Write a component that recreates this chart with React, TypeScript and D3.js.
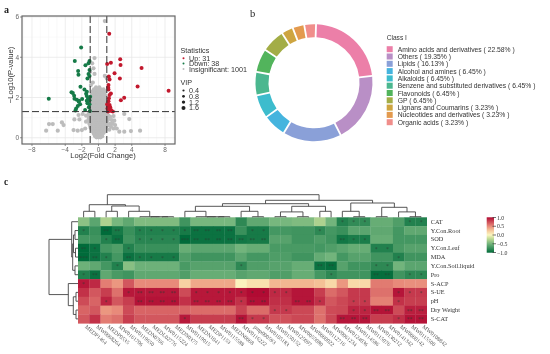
import React from "react";
import * as d3 from "d3";

// ---------- panel a data ----------
const xTicks = [-8, -4, -2, 0, 2, 4, 8];
const yTicks = [0, 2, 4, 6];
const upPoints = [[1.29,5.17],[1.49,3.73],[1.04,3.66],[2.61,3.9],[2.65,3.62],[5.18,3.47],[1.93,3.2],[1.24,3.05],[2.57,2.95],[1.33,2.9],[4.7,2.55],[8.43,2.34],[1.2,2.62],[1.16,2.5],[1.2,2.4],[1.49,2.2],[1.33,2.12],[3.09,1.99],[2.69,1.86],[1.25,1.96],[1.2,1.82],[1.33,1.63],[1.12,1.58],[1.41,1.51],[1.29,1.41],[1.08,1.46],[1.53,1.33],[1.73,1.31],[1.16,1.31],[1.04,1.67],[1.5,1.38]];
const downPoints = [[-2.09,4.48],[-2.85,3.81],[-1.08,3.81],[-1.2,3.7],[-1.57,3.6],[-2.45,3.32],[-2.41,3.13],[-1.08,3.37],[-1.2,3.17],[-1.08,3.07],[-1.33,2.94],[-5.98,1.94],[-2.17,2.54],[-1.69,2.4],[-1.4,2.29],[-3.25,2.26],[-3.09,2.22],[-2.93,2.09],[-2.89,1.94],[-2.61,1.89],[-2.33,1.84],[-1.97,1.92],[-1.41,2.07],[-1.25,1.96],[-1.41,1.84],[-1.08,1.87],[-1.33,1.71],[-1.08,1.67],[-2.21,1.67],[-2.49,1.58],[-2.69,1.46],[-2.77,1.36],[-1.61,1.38],[-1.04,1.33],[-1.16,1.51],[-2.37,1.79],[-1.0,2.04],[-1.49,2.19]];
const greyOutliers = [[0.76,5.8],[-0.48,3.96],[-0.76,3.7],[-0.6,3.45],[-1,3.28],[-0.48,3.17],[0.76,3.07],[1,2.95],[-0.68,2.74],[-0.92,2.62],[-6.3,0.35],[-5.95,0.68],[-5.5,0.68],[-4.9,0.35],[-4.4,0.76],[-4.2,0.63],[-2.9,0.91],[-2.4,1.13],[-1.9,1.18],[-2.3,0.91],[-3,0.38],[-2.5,0.35],[-2,0.38],[-1.6,0.46],[-1.5,0.8],[-1.5,1.1],[1.8,1.08],[3.1,1.18],[3.7,0.93],[2,0.63],[2.2,0.46],[2.5,0.3],[3.1,0.3],[3.9,0.33],[5,0.35],[1.8,0.46],[1.6,0.88],[1.4,1.04],[1.7,0.7],[1.5,0.55],[1.3,0.4],[1.9,0.85],[1.4,0.7]];
const greyBands: [number, number[]][] = [
  [2.5,[-0.3,0.1]],
  [2.4,[-0.55,-0.15,0.25,0.6]],
  [2.3,[-0.7,-0.4,-0.1,0.2,0.5,0.8]],
  [2.2,[-0.8,-0.5,-0.2,0.1,0.4,0.7]],
  [2.1,[-0.7,-0.4,-0.1,0.2,0.5,0.8]],
  [2.0,[-0.85,-0.55,-0.25,0.05,0.35,0.65]],
  [1.9,[-0.9,-0.6,-0.3,0,0.3,0.6,0.9]],
  [1.8,[-0.75,-0.45,-0.15,0.15,0.45,0.75]],
  [1.7,[-0.9,-0.6,-0.3,0,0.3,0.6,0.9]],
  [1.6,[-0.8,-0.5,-0.2,0.1,0.4,0.7,1.0]],
  [1.5,[-0.9,-0.6,-0.3,0,0.3,0.6,0.9]],
  [1.4,[-0.75,-0.45,-0.15,0.15,0.45,0.75]],
  [1.3,[-1.0,-0.7,-0.4,-0.1,0.2,0.5,0.8,1.1]],
  [1.2,[-1.15,-0.85,-0.55,-0.25,0.05,0.35,0.65,0.95]],
  [1.1,[-1.2,-0.9,-0.6,-0.3,0,0.3,0.6,0.9,1.2]],
  [1.0,[-1.15,-0.85,-0.55,-0.25,0.05,0.35,0.65,0.95]],
  [0.9,[-1.2,-0.9,-0.6,-0.3,0,0.3,0.6,0.9,1.15]],
  [0.8,[-1.1,-0.8,-0.5,-0.2,0.1,0.4,0.7,1.0]],
  [0.7,[-1.1,-0.85,-0.55,-0.25,0.05,0.35,0.65,0.95]],
  [0.6,[-1.0,-0.7,-0.4,-0.1,0.2,0.5,0.8,1.05]],
  [0.5,[-0.95,-0.65,-0.35,-0.05,0.25,0.55,0.85]],
  [0.4,[-0.8,-0.5,-0.2,0.1,0.4,0.7]],
  [0.32,[-0.7,-0.4,-0.1,0.2,0.5,0.75]],
  [0.24,[-0.6,-0.3,0,0.3,0.6]],
  [0.16,[-0.5,-0.2,0.1,0.4]],
  [0.08,[-0.4,-0.1,0.2,0.45]],
  [0.02,[-0.25,0,0.25]],
];
const vipLevels = ["0.4", "0.8", "1.2", "1.6"];
const vipRadius = [1.1, 1.4, 1.7, 2.0];

// ---------- panel b data ----------
const classNames = ["Amino acids and derivatives","Others","Lipids","Alcohol and amines","Alkaloids","Benzene and substituted derivatives","Flavonoids","GP","Lignans and Coumarins","Nucleotides and derivatives","Organic acids"];
const classPercents = [22.58,19.35,16.13,6.45,6.45,6.45,6.45,6.45,3.23,3.23,3.23];
const classColors = ["#ec7fa8","#b98fc6","#8aa0d8","#45b4de","#3dbccd","#4bb78f","#52b45c","#a3ad46","#cea540","#e39a4e","#f08e8b"];

// ---------- panel c data ----------
const rowLabels = ["CAT","Y.Con.Root","SOD","Y.Con.Leaf","MDA","Y.Con.Soil.liquid","Pro","S-ACP","S-UE","pH","Dry Weight","S-CAT"];
const colLabels = ["MEDP1464","MW0068264","MEDP0535","MW0161706","MW0119650","MEDN0766","MEDL02776","MW0115224","MEDN0375","MW0119015","MEDN1041","MEDP1153","MW0115588","MEDN0068","MW0116222","pmp000593","MW0105183","MW0150152","MW0125097","MW0055080","MW0060022","MW0112716","MW0061234","MW0124036","MW0114586","MW0115076","MW0130212","MW0141342","MW0060142","MW0115500","MW0108842"];
const valCAT = [-.4,-.6,-.28,-.48,-.58,-.45,-.45,-.45,-.45,-.72,-.48,-.48,-.48,-.48,-.8,-.58,-.58,-.48,-.48,-.45,-.45,-.28,-.5,-.85,-.78,-.78,-.55,-.55,-.65,-.85,-.85];
const valRoot = [-.85,-.75,-1,-.9,-.75,-.85,-.85,-.85,-.85,-.9,-.95,-.95,-.95,-.95,-.75,-.9,-.9,-.7,-.7,-.72,-.72,-.8,-.7,-.75,-.6,-.6,-.58,-.58,-.7,-.58,-.58];
const valSOD = [-.7,-.72,-.85,-.95,-.72,-.82,-.82,-.82,-.82,-1,-.95,-.95,-.95,-.95,-.92,-.9,-.9,-.62,-.62,-.72,-.72,-.66,-.72,-.92,-.88,-.88,-.55,-.55,-.7,-.7,-.7];
const valLeaf = [-1,-.95,-.7,-.65,-.85,-.75,-.75,-.75,-.75,-.55,-.6,-.6,-.6,-.6,-.5,-.55,-.55,-.68,-.68,-.68,-.68,-.7,-.65,-.6,-.55,-.55,-.85,-.85,-.68,-.62,-.62];
const valMDA = [-1,-.95,-.85,-.7,-.95,-.9,-.9,-.9,-.9,-.65,-.72,-.72,-.72,-.72,-.6,-.7,-.7,-.66,-.66,-.72,-.72,-.56,-.5,-.7,-.62,-.62,-.72,-.72,-.85,-.72,-.72];
const valSoil = [-.52,-.58,-.7,-.85,-.42,-.52,-.52,-.52,-.52,-.68,-.62,-.62,-.62,-.62,-.8,-.65,-.65,-.62,-.62,-.55,-.55,-.95,-.98,-.62,-.72,-.72,-.8,-.8,-.5,-.6,-.6];
const valPro = [-.85,-.95,-.58,-.68,-.72,-.58,-.58,-.58,-.58,-.65,-.55,-.55,-.55,-.55,-.62,-.58,-.58,-.65,-.65,-.55,-.55,-.7,-.8,-.72,-.72,-.72,-.98,-.98,-.72,-.8,-.8];
const valACP = [.95,.88,.55,.45,.7,.5,.5,.5,.5,.2,.38,.38,.38,.38,.02,.12,.12,.32,.32,.32,.32,.28,.16,.45,.16,.16,.56,.56,.5,.48,.48];
const valUE = [.85,.7,.8,.6,.95,.95,.95,.95,.95,.75,.95,.95,.95,.95,.95,1,1,.88,.88,.96,.96,.8,.62,.7,.82,.82,.6,.6,.96,.82,.82];
const valPH = [.75,.65,.9,.7,.8,.97,.97,.97,.97,.85,.95,.95,.95,.95,.85,.98,.98,.86,.86,.96,.96,.86,.7,.76,.82,.82,.54,.54,.85,.8,.8];
const valDry = [.65,.7,.45,.5,.75,.65,.65,.65,.65,.65,.62,.62,.62,.62,.78,.62,.62,.82,.82,.76,.76,.6,.75,.76,.9,.9,.97,.97,.75,.92,.92];
const valSCAT = [.7,.85,.55,.6,.8,.7,.7,.7,.7,.95,.8,.8,.8,.8,.97,.82,.82,.72,.72,.76,.76,.6,.76,.96,.96,.96,.8,.8,.86,.97,.97];
const heatValues = [valCAT,valRoot,valSOD,valLeaf,valMDA,valSoil,valPro,valACP,valUE,valPH,valDry,valSCAT];
const heatStars = [
  "00000 00000 00000 00000 00011 10001 1",
  "10220 11111 22220 11000 01000 00000 0",
  "00120 11113 22222 22000 00021 10000 0",
  "21001 00000 00000 00000 00000 01100 0",
  "32102 11110 00000 00000 00000 00010 0",
  "00010 00000 00001 00000 02200 01100 0",
  "12000 00000 00000 00000 00100 02201 1",
  "10000 00000 00000 00000 00000 00000 0",
  "00001 22220 11111 11110 00000 00011 1",
  "00100 22220 22221 22002 21001 10010 0",
  "00000 00000 00000 00110 00001 12202 2",
  "00000 00001 00002 11000 00022 20012 2",
].map(s => s.replace(/ /g, ""));
const colorStops = [-1, -0.5, -0.2, 0, 0.25, 0.5, 1];
const colorRange = ["#006b3a", "#72b47c", "#c3dc96", "#fbf6c0", "#f6c99a", "#e88a7a", "#b10b33"];
const colorbarTicks = [1, 0.5, 0, -0.5, -1];

type Tree = number | [number, Tree, Tree];
const chain = (ids: number[], h: number): Tree =>
  ids.length === 1 ? ids[0] : [h, ids[0], chain(ids.slice(1), h)];
const topTree: Tree = [22.6,
  [12.6, [6, 0, 1], [11.3, [6, 2, 3], [6, 4, chain([5,6,7,8], 0.6)]]],
  [17,
    [13.6,
      [11, [6, 9, chain([10,11,12,13], 0.6)], [6, 14, [0.6, 15, 16]]],
      [11, [5.4, [0.6, 17, 18], [0.6, 19, 20]], [6, 21, 22]]],
    [14.3,
      [6, 23, [0.6, 24, 25]],
      [10, [0.6, 26, 27], [5.4, 28, [0.6, 29, 30]]]]],
];
const leftTree: Tree = [29,
  [6.3, 0, [5.3, [4.5, [3, 1, 2], [2.5, 3, 4]], [3, 5, 6]]],
  [9.7, 7, [4.7, [2, 8, 9], [2, 10, 11]]],
];

// ---------- layout ----------
const vx = d3.scaleLinear().domain([-9.2, 9.2]).range([22, 175]);
const vy = d3.scaleLinear().domain([-0.31, 6.05]).range([144, 16]);
const hmX = d3.scaleBand<number>().domain(d3.range(31)).range([78, 426.7]);
const hmY = d3.scaleBand<number>().domain(d3.range(12)).range([217.3, 323.3]);
const heatColor = d3.scaleLinear<string>().domain(colorStops).range(colorRange);
const cbY = d3.scaleLinear().domain([1, -1]).range([217.5, 252.5]);
const SANS = "'Liberation Sans', Arial, sans-serif";
const SERIF = "'Liberation Serif', 'Times New Roman', serif";

function treePaths(t: Tree, leafPos: (i: number) => number, out: string[], mk: (h: number, a: number, b: number, ha: number, hb: number) => string): [number, number] {
  if (typeof t === "number") return [leafPos(t), 0];
  const [h, l, r] = t;
  const [pa, ha] = treePaths(l, leafPos, out, mk);
  const [pb, hb] = treePaths(r, leafPos, out, mk);
  out.push(mk(h, pa, pb, ha, hb));
  return [(pa + pb) / 2, h];
}

export default function App() {
  const greyPts = [...greyOutliers, ...greyBands.flatMap(([y, xs]) => xs.map(x => [x, y]))];
  const minorX = d3.range(-9, 10, 1).filter(v => v % 2 !== 0 || v === -6 || v === 6);
  const minorY = [1, 3, 5];

  const total = d3.sum(classPercents);
  const pie = d3.pie<number>().sort(null).startAngle(0.035).endAngle(2 * Math.PI + 0.035)(classPercents.map(v => v / total));
  const arc = d3.arc<d3.PieArcDatum<number>>().innerRadius(45.5).outerRadius(58.5).padAngle(0.035).padRadius(52);

  const topPaths: string[] = [];
  const topY = (h: number) => 217.3 - h;
  treePaths(topTree, i => hmX(i)! + hmX.bandwidth() / 2, topPaths, (h, a, b, ha, hb) =>
    d3.line()([[a, topY(ha)], [a, topY(h)], [b, topY(h)], [b, topY(hb)]])!);
  const leftPaths: string[] = [];
  const leftX = (h: number) => 78 - h;
  treePaths(leftTree, i => hmY(i)! + hmY.bandwidth() / 2, leftPaths, (h, a, b, ha, hb) =>
    d3.line()([[leftX(ha), a], [leftX(h), a], [leftX(h), b], [leftX(hb), b]])!);

  const cbStops = d3.range(0, 1.0001, 0.05);

  return (
    <svg width={550} height={354} style={{ position: "absolute", left: 0, top: 0, background: "#fff", filter: "blur(0.35px)" }} fontFamily={SANS}>
      <defs>
        <linearGradient id="cb" x1="0" y1="0" x2="0" y2="1">
          {cbStops.map(t => <stop key={t} offset={t} stopColor={heatColor(1 - 2 * t)} />)}
        </linearGradient>
      </defs>

      {/* panel a */}
      <text x={4} y={13} fontFamily={SERIF} fontSize={10} fontWeight="bold" fill="#222">a</text>
      <rect x={22} y={16} width={153} height={128} fill="#fff" />
      {minorX.map(v => <line key={"mx" + v} x1={vx(v)} x2={vx(v)} y1={16} y2={144} stroke="#f3f3f3" strokeWidth={0.5} />)}
      {minorY.map(v => <line key={"my" + v} y1={vy(v)} y2={vy(v)} x1={22} x2={175} stroke="#f3f3f3" strokeWidth={0.5} />)}
      {xTicks.map(v => <line key={"gx" + v} x1={vx(v)} x2={vx(v)} y1={16} y2={144} stroke="#e8e8e8" strokeWidth={0.8} />)}
      {yTicks.map(v => <line key={"gy" + v} y1={vy(v)} y2={vy(v)} x1={22} x2={175} stroke="#e8e8e8" strokeWidth={0.8} />)}
      {greyPts.map(([x, y], i) => <circle key={"g" + i} cx={vx(x)} cy={vy(y)} r={2.1} fill="#bcbcbc" />)}
      {downPoints.map(([x, y], i) => <circle key={"d" + i} cx={vx(x)} cy={vy(y)} r={2} fill="#157a47" />)}
      {upPoints.map(([x, y], i) => <circle key={"u" + i} cx={vx(x)} cy={vy(y)} r={2} fill="#c2182d" />)}
      {[-1, 1].map(v => <line key={"vl" + v} x1={vx(v)} x2={vx(v)} y1={16} y2={144} stroke="#333" strokeWidth={1} strokeDasharray="7 3" />)}
      <line x1={22} x2={175} y1={vy(1.3)} y2={vy(1.3)} stroke="#333" strokeWidth={1} strokeDasharray="7 3" />
      <rect x={22} y={16} width={153} height={128} fill="none" stroke="#666" strokeWidth={1.2} />
      {xTicks.map(v => (
        <g key={"xt" + v}>
          <line x1={vx(v)} x2={vx(v)} y1={144} y2={146} stroke="#666" strokeWidth={0.7} />
          <text x={vx(v)} y={151.5} fontSize={6.5} textAnchor="middle" fill="#666">{v < 0 ? "−" + -v : v}</text>
        </g>
      ))}
      {yTicks.map(v => (
        <g key={"yt" + v}>
          <line x1={20} x2={22} y1={vy(v)} y2={vy(v)} stroke="#666" strokeWidth={0.7} />
          <text x={19} y={vy(v) + 2.4} fontSize={6.5} textAnchor="end" fill="#666">{v}</text>
        </g>
      ))}
      <text x={103} y={158} fontSize={7.6} textAnchor="middle" fill="#333">Log2(Fold Change)</text>
      <text transform="translate(12.5,75) rotate(-90)" fontSize={7.6} textAnchor="middle" fill="#333">−Log10(P-value)</text>
      <text x={180.5} y={52.5} fontSize={7.2} fill="#333">Statistics</text>
      {[["Up: 31", "#c2182d"], ["Down: 38", "#157a47"], ["Insignificant: 1001", "#bcbcbc"]].map(([t, c], i) => (
        <g key={t}>
          <circle cx={183.5} cy={58.2 + i * 5.4} r={1} fill={c} />
          <text x={189} y={60.7 + i * 5.4} fontSize={7.2} fill="#333">{t}</text>
        </g>
      ))}
      <text x={180.5} y={85} fontSize={7.2} fill="#333">VIP</text>
      {vipLevels.map((t, i) => (
        <g key={t}>
          <circle cx={183.5} cy={90.5 + i * 5.8} r={vipRadius[i]} fill="#222" />
          <text x={189} y={93 + i * 5.8} fontSize={7.2} fill="#333">{t}</text>
        </g>
      ))}

      {/* panel b */}
      <text x={250} y={17} fontFamily={SERIF} fontSize={10.5} fill="#222">b</text>
      <g transform="translate(314,82.7)">
        {pie.map((d, i) => <path key={i} d={arc(d)!} fill={classColors[i]} />)}
      </g>
      <text x={386.7} y={39.5} fontSize={6.6} fill="#333">Class I</text>
      {classNames.map((n, i) => (
        <g key={n}>
          <rect x={386.7} y={46.2 + i * 7.3} width={6} height={6} fill={classColors[i]} />
          <text x={397.7} y={51.7 + i * 7.3} fontSize={6.75} fill="#333">{`${n} ( ${classPercents[i].toFixed(2)}% )`}</text>
        </g>
      ))}

      {/* panel c */}
      <text x={4} y={185} fontFamily={SERIF} fontSize={9.5} fontWeight="bold" fill="#222">c</text>
      {heatValues.map((row, r) => row.map((v, c) => (
        <rect key={r + "-" + c} x={hmX(c)} y={hmY(r)} width={hmX.bandwidth() + 0.3} height={hmY.bandwidth() + 0.3} fill={heatColor(v)} />
      )))}
      {heatStars.map((row, r) => row.split("").map((s, c) => s === "0" ? null : (
        <text key={"s" + r + "-" + c} x={hmX(c)! + hmX.bandwidth() / 2} y={hmY(r)! + hmY.bandwidth() / 2 + 2.6} fontSize={5.5} textAnchor="middle" fill="#2a3a30" fillOpacity={0.75} fontFamily={SERIF}>{"*".repeat(+s)}</text>
      )))}
      {topPaths.map((d, i) => <path key={"tp" + i} d={d} fill="none" stroke="#444" strokeWidth={0.9} />)}
      {leftPaths.map((d, i) => <path key={"lp" + i} d={d} fill="none" stroke="#444" strokeWidth={0.9} />)}
      {rowLabels.map((t, r) => (
        <text key={t} x={430.7} y={hmY(r)! + hmY.bandwidth() / 2 + 2} fontFamily={SERIF} fontSize={6.3} fill="#333">{t}</text>
      ))}
      {colLabels.map((t, c) => (
        <text key={t} transform={`translate(${hmX(c)! + hmX.bandwidth() / 2 + 1},${327.5}) rotate(40)`} fontFamily={SERIF} fontSize={5.6} fill="#555">{t}</text>
      ))}
      <rect x={486.7} y={217.3} width={7.3} height={35.4} fill="url(#cb)" />
      {colorbarTicks.map(v => (
        <g key={v}>
          <line x1={492.5} x2={496} y1={cbY(v)} y2={cbY(v)} stroke="#333" strokeWidth={0.7} />
          <text x={497} y={cbY(v) + 2} fontFamily={SERIF} fontSize={5.8} fill="#333">{v === 0 ? "0.0" : v < 0 ? "−" + (-v).toFixed(1) : v.toFixed(1)}</text>
        </g>
      ))}
    </svg>
  );
}
